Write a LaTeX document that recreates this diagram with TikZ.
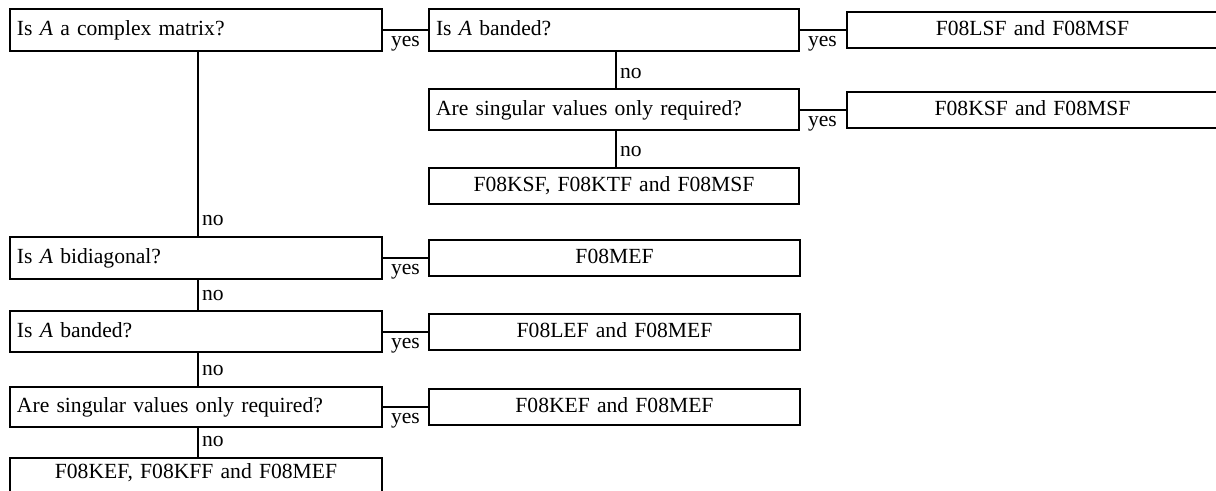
\documentclass[tikz,border=0pt]{standalone}
\usepackage{fontspec}
\setmainfont{Liberation Serif}
\newcommand\dfont{\fontsize{10.8}{12.5}\selectfont\spaceskip=0.45em plus 0.05em minus 0.05em\relax}
\begin{document}
\begin{tikzpicture}[x=0.5pt,y=-0.5pt,
  boxbase/.style={draw, line width=1pt, rectangle, outer sep=0pt, inner ysep=0pt,
    text height=7pt, text depth=1.5pt, font=\dfont},
  qbox/.style={boxbase, inner xsep=3.5pt, text width=#1-7pt, align=left, minimum height=21pt},
  rbox/.style={boxbase, inner xsep=0pt, text width=#1, align=center, minimum height=18pt},
  conn/.style={line width=1pt},
  yeslbl/.style={anchor=base west, inner sep=0pt, font=\dfont},
  nolbl/.style={anchor=base west, inner sep=0pt, font=\dfont}]
\useasboundingbox (0,0) rectangle (1216,491);
\clip (0,0) rectangle (1216,491);
\fill[white] (0,0) rectangle (1216,491);

% question boxes
\node[qbox=186pt] (q1) at (196,30) {Is \textit{A} a complex matrix?};
\node[qbox=185pt] (q2) at (614,30) {Is \textit{A} banded?};
\node[qbox=185pt, minimum height=20.5pt] (q3) at (614,110) {Are singular values only required?};
\node[qbox=186pt] (q4) at (196,258) {Is \textit{A} bidiagonal?};
\node[qbox=186pt, minimum height=20.5pt] (q5) at (196,332) {Is \textit{A} banded?};
\node[qbox=186pt, minimum height=20pt] (q6) at (196,407) {Are singular values only required?};

% result boxes
\node[rbox=185.5pt] (r1) at (1032.5,30) {F08LSF and F08MSF};
\node[rbox=185.5pt] (r2) at (1032.5,110) {F08KSF and F08MSF};
\node[rbox=185pt] (r3) at (614,186) {F08KSF, F08KTF and F08MSF};
\node[rbox=185.5pt] (r4) at (614.5,258) {F08MEF};
\node[rbox=185.5pt] (r5) at (614.5,332) {F08LEF and F08MEF};
\node[rbox=185.5pt] (r6) at (614.5,407) {F08KEF and F08MEF};
\node[rbox=186pt, text depth=4pt] (r7) at (196,476) {F08KEF, F08KFF and F08MEF};

% yes connectors
\foreach \a/\b in {q1/q2, q2/r1, q3/r2, q4/r4, q5/r5, q6/r6}{
  \draw[conn] (\a.east) -- (\b.west);
  \node[yeslbl] (yes-\a) at ([xshift=4.3pt, yshift=-8.5pt]\a.east) {yes};
}

% no connectors
\foreach \a/\b in {q2/q3, q3/r3, q1/q4, q4/q5, q5/q6, q6/r7}{
  \draw[conn] ([xshift=1pt]\a.south) -- ([xshift=1pt]\b.north);
  \node[nolbl] (no-\b) at ([xshift=2.8pt, yshift=5.5pt]\b.north) {no};
}
\end{tikzpicture}
\end{document}
